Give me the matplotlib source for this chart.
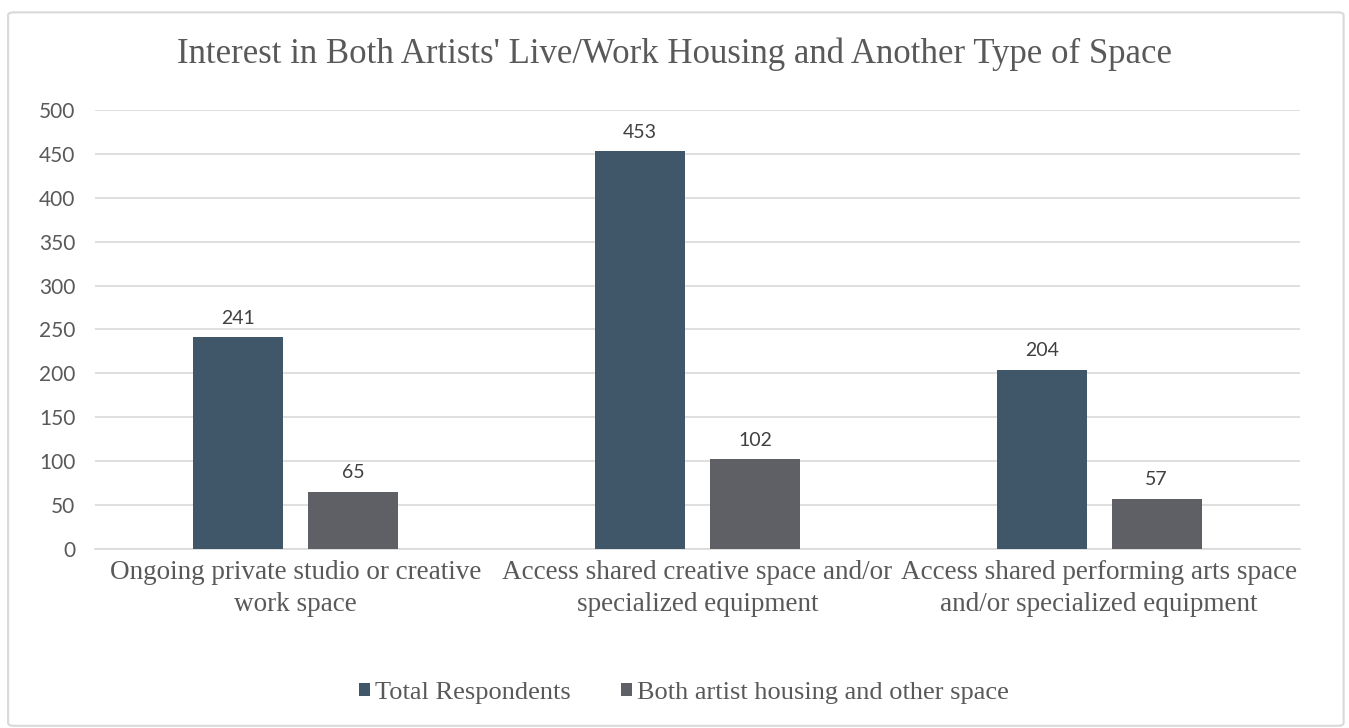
import matplotlib
matplotlib.use("Agg")
import matplotlib.pyplot as plt
from matplotlib.patches import FancyBboxPatch
import numpy as np

categories = ["Ongoing private studio or creative\nwork space",
              "Access shared creative space and/or\nspecialized equipment",
              "Access shared performing arts space\nand/or specialized equipment"]
total_respondents = [241, 453, 204]
both_space = [65, 102, 57]
series_names = ["Total Respondents", "Both artist housing and other space"]
yticks = [0, 50, 100, 150, 200, 250, 300, 350, 400, 450, 500]

c_total = "#40576A"
c_both = "#5F6065"
txt = "#595959"
serif = ["Liberation Serif", "DejaVu Serif"]
sans = ["Lato", "DejaVu Sans"]

fig = plt.figure(figsize=(13.49, 7.28), dpi=100)
bg = FancyBboxPatch((0.006, 0.003), 0.99, 0.98, boxstyle="round,pad=0,rounding_size=0.004",
                    transform=fig.transFigure, facecolor="white", edgecolor="#D9D9D9", linewidth=1.5, zorder=-10)
fig.patches.append(bg)
ax = fig.add_axes([0.0704, 0.2459, 0.8933, 0.603])
ax.set_facecolor("none")
x = np.arange(len(categories))
w = 0.224
off = 0.143
b1 = ax.bar(x - off, total_respondents, w, color=c_total, label=series_names[0], zorder=3)
b2 = ax.bar(x + off, both_space, w, color=c_both, label=series_names[1], zorder=3)
for bars in (b1, b2):
    for r in bars:
        ax.text(r.get_x() + r.get_width() / 2, r.get_height() + 12, f"{int(r.get_height())}",
                ha="center", va="bottom", fontsize=14, color="#404040", family=sans)

ax.set_xlim(-0.5, 2.5)
ax.set_ylim(0, 500)
ax.set_yticks(yticks)
ax.set_yticklabels([str(v) for v in yticks], family=sans, fontsize=15, color=txt)
ax.yaxis.grid(True, color="#D9D9D9", linewidth=1.2, zorder=0)
ax.set_xticks(x)
ax.set_xticklabels(categories, family=serif, fontsize=19.5, color=txt, linespacing=1.35)
ax.tick_params(axis="both", length=0)
ax.tick_params(axis="y", pad=14)
ax.tick_params(axis="x", pad=8)
for s in ["top", "right", "left"]:
    ax.spines[s].set_visible(False)
ax.spines["bottom"].set_color("#D9D9D9")
ax.spines["bottom"].set_linewidth(1.2)

fig.text(0.5, 0.925, "Interest in Both Artists' Live/Work Housing and Another Type of Space",
         ha="center", va="center", family=serif, fontsize=25, color=txt)

leg = fig.legend(handles=[b1, b2], labels=series_names, loc="center", bbox_to_anchor=(0.507, 0.048),
                 ncol=2, frameon=False, prop={"family": serif, "size": 19},
                 handlelength=0.42, handleheight=0.42, handletextpad=0.2, columnspacing=1.9)
for t in leg.get_texts():
    t.set_color(txt)

fig.savefig("out.png", dpi=100)
